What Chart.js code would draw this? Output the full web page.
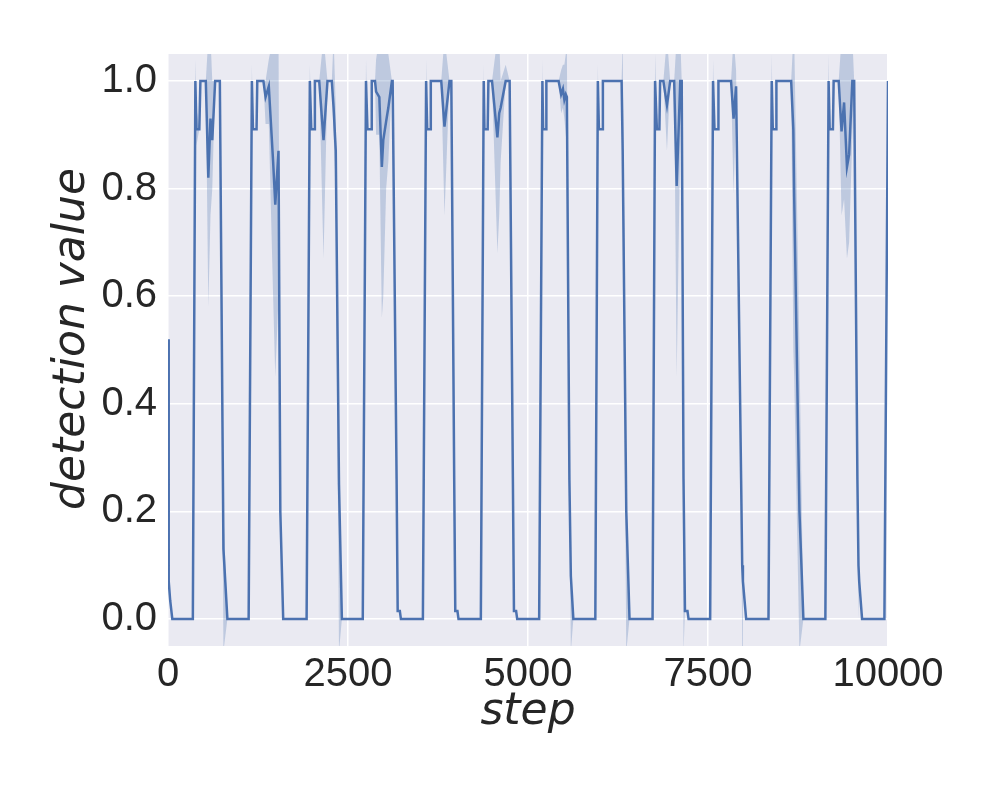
<!DOCTYPE html>
<html>

<head>
    <title>detection value</title>
    <script src="https://cdn.jsdelivr.net/npm/chart.js"></script>
    <style>
        body { margin: 0; background: #ffffff; }
    </style>
</head>

<body>
    <canvas id="myChart" width="1000" height="800"></canvas>

    <script>
        // mean detection value per step
        const steps = [
            0, 10, 30, 60,
            345, 380, 395, 435, 450, 525, 560, 590, 615, 655, 720, 770, 825,
            1120, 1165, 1180, 1230, 1240, 1325, 1355, 1400, 1460, 1490, 1535, 1560, 1600,
            1925, 1970, 1990, 2030, 2040, 2100, 2160, 2215, 2275, 2300, 2330, 2375, 2415,
            2705, 2750, 2770, 2820, 2830, 2875, 2890, 2935, 2970, 2990, 3030, 3060, 3110, 3120, 3175, 3190, 3220, 3235,
            3540, 3585, 3600, 3640, 3650, 3795, 3840, 3910, 3935, 3975, 3990, 4020, 4035,
            4345, 4385, 4395, 4440, 4450, 4500, 4575, 4600, 4620, 4690, 4745, 4790, 4805, 4835, 4850,
            5155, 5200, 5210, 5250, 5255, 5425, 5460, 5485, 5505, 5525, 5540, 5575, 5595, 5630,
            5935, 5970, 5985, 6035, 6040, 6300, 6315, 6365, 6410,
            6730, 6765, 6790, 6825, 6835, 6880, 6930, 6975, 7030, 7065, 7115, 7135, 7160, 7180, 7215, 7230,
            7530, 7570, 7590, 7640, 7645, 7820, 7855, 7890, 7960, 7975, 7985, 8030,
            8340, 8385, 8400, 8445, 8450, 8655, 8685, 8697, 8770, 8825,
            9130, 9175, 9190, 9235, 9245, 9315, 9355, 9390, 9430, 9460, 9505, 9530, 9575, 9590, 9600, 9640,
            9950, 10000
        ];
        const detection = [
            0.52, 0.07, 0.035, 0,
            0, 1.0, 0.91, 0.91, 1.0, 1.0, 0.82, 0.93, 0.89, 1.0, 1.0, 0.13, 0,
            0, 1.0, 0.91, 0.91, 1.0, 1.0, 0.97, 0.99, 0.85, 0.77, 0.87, 0.2, 0,
            0, 1.0, 0.91, 0.91, 1.0, 1.0, 0.89, 1.0, 1.0, 0.95, 0.87, 0.25, 0,
            0, 1.0, 0.91, 0.91, 1.0, 1.0, 0.98, 0.97, 0.84, 0.89, 0.925, 0.95, 1.0, 1.0, 0.26, 0.015, 0.015, 0,
            0, 1.0, 0.91, 0.91, 1.0, 1.0, 0.915, 1.0, 1.0, 0.26, 0.015, 0.015, 0,
            0, 1.0, 0.91, 0.91, 1.0, 1.0, 0.895, 0.94, 0.95, 1.0, 1.0, 0.26, 0.015, 0.015, 0,
            0, 1.0, 0.91, 0.91, 1.0, 1.0, 0.975, 0.985, 0.965, 0.975, 0.97, 0.26, 0.08, 0,
            0, 1.0, 0.91, 0.91, 1.0, 1.0, 0.87, 0.2, 0,
            0, 1.0, 0.91, 0.91, 1.0, 1.0, 0.955, 1.0, 1.0, 0.805, 1.0, 1.0, 0.26, 0.015, 0.015, 0,
            0, 1.0, 0.91, 0.91, 1.0, 1.0, 0.93, 0.99, 0.26, 0.1, 0.07, 0,
            0, 1.0, 0.91, 0.91, 1.0, 1.0, 0.91, 0.785, 0.2, 0,
            0, 1.0, 0.91, 0.91, 1.0, 1.0, 0.906, 0.96, 0.84, 0.863, 1.0, 1.0, 0.26, 0.1, 0.07, 0,
            0, 1.0
        ];

        // confidence band, only where it is wider than the line
        const ciSteps = [380, 395, 560, 590, 615, 770, 1165, 1355, 1400, 1460, 1490, 1535, 1970, 2160, 2300, 2330, 2375,
            2750, 2890, 2935, 2970, 2990, 3030, 3060, 3585, 3840, 4385, 4575, 4600, 4620, 4690, 5200, 5460, 5485, 5505,
            5525, 5540, 5595, 5970, 6315, 6365, 6765, 6930, 7065, 7115, 7160, 7570, 7855, 7890, 7975, 8385, 8685, 8697,
            8770, 9175, 9355, 9390, 9430, 9460, 9505, 9590];
        const ciLow = [1.0, 0.88, 0.58, 0.75, 0.8, -0.06, 1.0, 0.92, 0.92, 0.6, 0.45, 0.6, 1.0, 0.67, 0.9, 0.8, -0.06,
            1.0, 0.9, 0.9, 0.56, 0.6, 0.8, 0.85, 1.0, 0.75, 1.0, 0.68, 0.75, 0.85, 1.0, 1.0, 0.94, 0.95, 0.93,
            0.9, 0.88, -0.06, 1.0, 0.87, -0.06, 1.0, 0.87, 0.45, 0.9, -0.06, 1.0, 0.79, 0.95, -0.06, 1.0, 0.5, 0.45,
            -0.06, 1.0, 0.75, 0.78, 0.67, 0.7, 0.9, 0.0];
        const ciHigh = [1.04, 0.95, 1.08, 1.08, 1.0, 0.2, 1.03, 1.0, 1.04, 1.08, 1.08, 1.08, 1.03, 1.08, 1.08, 0.95, 0.3,
            1.04, 1.04, 1.08, 1.08, 1.08, 1.08, 1.05, 1.04, 1.08, 1.03, 1.08, 1.08, 1.0, 1.03, 1.04, 1.02, 1.03, 1.03,
            1.05, 1.06, 0.1, 1.03, 1.08, 0.25, 1.05, 1.08, 1.08, 1.08, 0.3, 1.04, 1.08, 1.02, 0.12, 1.05, 1.08, 1.08,
            0.5, 1.05, 1.08, 1.08, 1.08, 1.08, 1.08, 0.15];

        const xTicks = [0, 2500, 5000, 7500, 10000];
        const yTicks = [0.0, 0.2, 0.4, 0.6, 0.8, 1.0];

        function bandPoint(s, i, arr) {
            const k = ciSteps.indexOf(s);
            return { x: s, y: k >= 0 ? arr[k] : detection[i] };
        }

        const meanData = steps.map((s, i) => ({ x: s, y: detection[i] }));
        const hiData = steps.map((s, i) => bandPoint(s, i, ciHigh));
        const loData = steps.map((s, i) => bandPoint(s, i, ciLow));

        const plotBg = {
            id: "plotBg",
            beforeDraw(chart) {
                const a = chart.chartArea;
                const ctx = chart.ctx;
                ctx.save();
                ctx.fillStyle = "#EAEAF2";
                ctx.fillRect(a.left, a.top, a.right - a.left, a.bottom - a.top);
                ctx.restore();
            }
        };

        const tickFont = { family: "'Liberation Sans', Arial, sans-serif", size: 40 };
        const titleFont = { family: "'DejaVu Sans', sans-serif", size: 44, style: "italic" };

        new Chart(document.getElementById("myChart").getContext("2d"), {
            type: "line",
            data: {
                datasets: [{
                    data: hiData,
                    borderWidth: 0,
                    borderColor: "rgba(0,0,0,0)",
                    pointRadius: 0,
                    fill: false,
                }, {
                    data: loData,
                    borderWidth: 0,
                    borderColor: "rgba(0,0,0,0)",
                    backgroundColor: "rgba(76,114,176,0.28)",
                    pointRadius: 0,
                    fill: "-1",
                }, {
                    data: meanData,
                    borderColor: "#4C72B0",
                    borderWidth: 2.5,
                    pointRadius: 0,
                    fill: false,
                }],
            },
            options: {
                responsive: false,
                animation: false,
                layout: { padding: { left: 0, right: 112, top: 54, bottom: 0 } },
                plugins: { legend: { display: false }, tooltip: { enabled: false } },
                scales: {
                    x: {
                        type: "linear",
                        min: 0,
                        max: 10000,
                        afterBuildTicks: (s) => { s.ticks = xTicks.map(v => ({ value: v })); },
                        afterFit: (s) => { s.height = 154; },
                        grid: { color: "#ffffff", lineWidth: 1.5, drawTicks: false },
                        border: { display: false },
                        ticks: { font: tickFont, color: "#262626", padding: 5, maxRotation: 0, callback: (v) => String(v) },
                        title: { display: true, text: "step", font: titleFont, color: "#262626", padding: { top: 0, bottom: 61 } },
                    },
                    y: {
                        min: -0.05,
                        max: 1.05,
                        afterBuildTicks: (s) => { s.ticks = yTicks.map(v => ({ value: v })); },
                        afterFit: (s) => { s.width = 168; },
                        grid: { color: "#ffffff", lineWidth: 1.5, drawTicks: false },
                        border: { display: false },
                        ticks: { font: tickFont, color: "#262626", padding: 11, callback: (v) => Number(v).toFixed(1) },
                        title: { display: true, text: "\u2002detection value", font: titleFont, color: "#262626", padding: { top: 46, bottom: 0 } },
                    },
                },
            },
            plugins: [plotBg],
        });
    </script>
</body>

</html>
